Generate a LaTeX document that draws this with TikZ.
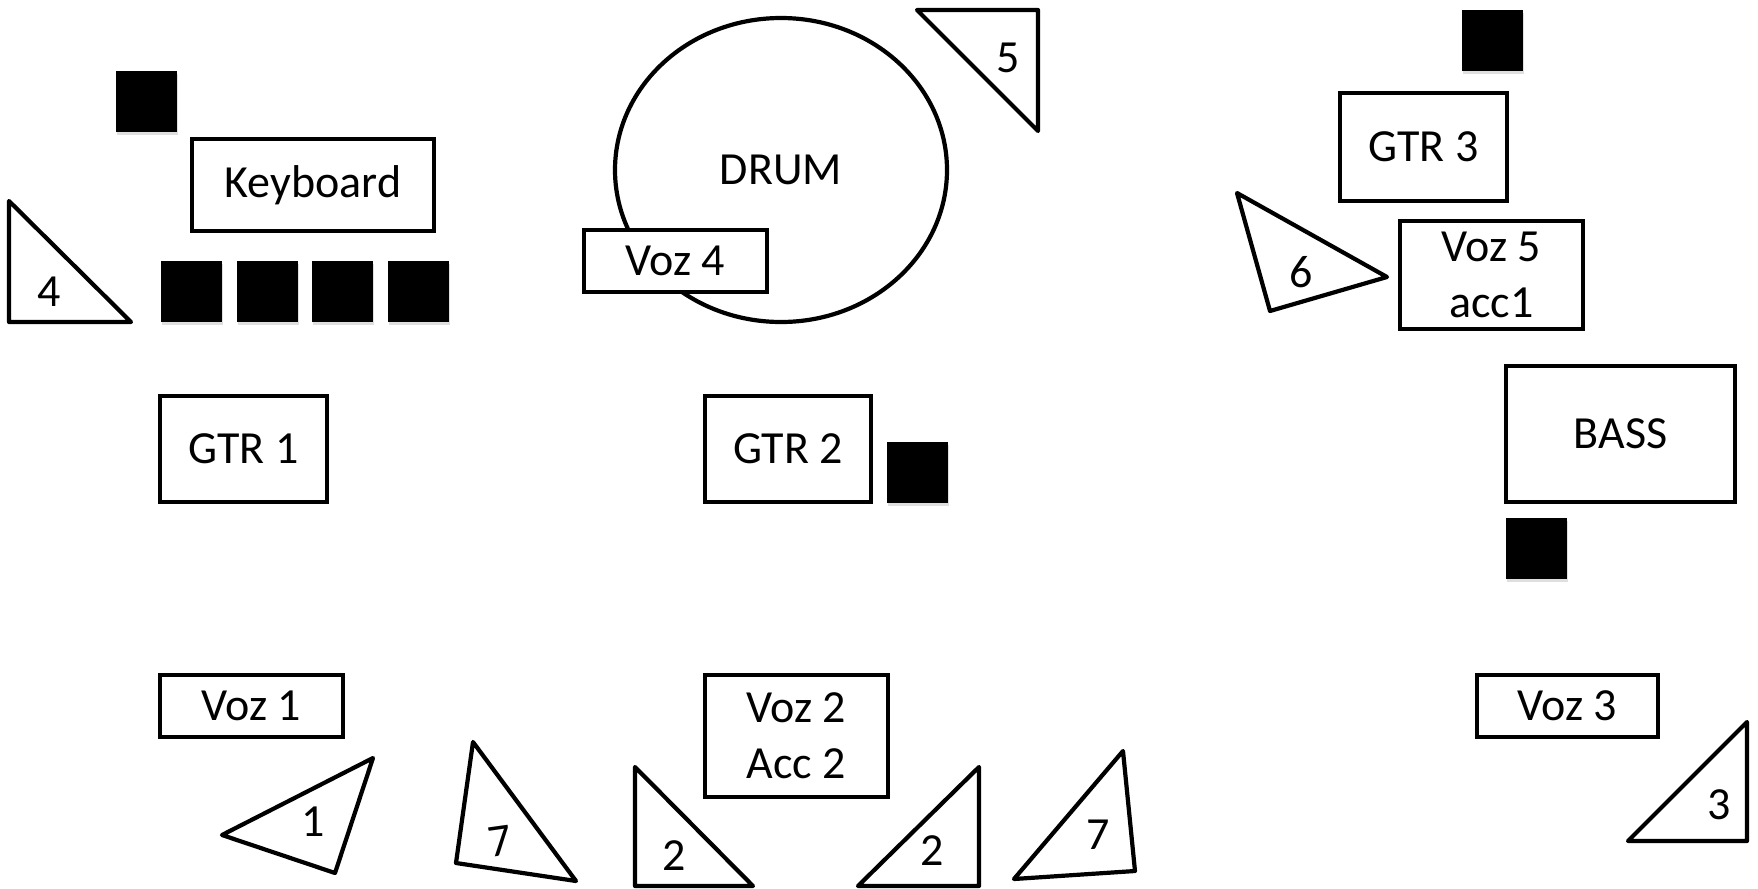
\documentclass[tikz,border=0pt]{standalone}
\usepackage{fontspec}
\setmainfont{Carlito}
\usetikzlibrary{shapes.geometric, shadows}

\tikzset{
  box/.style={draw, line width=2.1pt, fill=white, align=center, inner sep=0pt},
  amp/.style={fill=black, minimum size=30.5pt, inner sep=0pt,
    drop shadow={opacity=0.25, shadow xshift=0.6pt, shadow yshift=-1.6pt}},
  mon/.style={draw, line width=2.1pt, line join=round, fill=white},
}

\begin{document}
\begin{tikzpicture}[x=0.5pt, y=-0.5pt, font=\fontsize{23}{28}\selectfont]
    \useasboundingbox (0,0) rectangle (1758,889);

    % Drum and keyboard corner
    \node[draw, ellipse, line width=2.1pt, minimum width=166pt, minimum height=152pt] (drum) at (781,170) {DRUM};
    \node[box, minimum width=91.5pt, minimum height=31pt] (voz4) at (675.5,261) {Voz 4};
    \node[box, minimum width=121pt, minimum height=46pt] (keyboard) at (313,185) {Keyboard};
    \node[amp] (ampkb) at (146,101) {};
    \foreach \x [count=\i] in {191.5,267,342.5,418}
        \node[amp] (key\i) at (\x,291.5) {};

    % Guitars and bass
    \node[box, minimum width=83.5pt, minimum height=53pt] (gtr1) at (243.5,449) {GTR 1};
    \node[box, minimum width=83pt, minimum height=53pt] (gtr2) at (788,449) {GTR 2};
    \node[amp] (ampgtr2) at (917,472) {};
    \node[box, minimum width=83.5pt, minimum height=54pt] (gtr3) at (1423.5,147) {GTR 3};
    \node[amp] (ampgtr3) at (1492,40.5) {};
    \node[box, minimum width=91.5pt, minimum height=54pt] (voz5) at (1491.5,275) {Voz 5\\acc1};
    \node[box, minimum width=114.5pt, minimum height=68pt] (bass) at (1620.5,434) {BASS};
    \node[amp] (ampbass) at (1536.5,548.5) {};

    % Front vocals
    \node[box, minimum width=91.5pt, minimum height=31pt] (voz1) at (251.5,706) {Voz 1};
    \node[box, minimum width=91.5pt, minimum height=61pt] (voz2) at (796.5,736) {Voz 2\\Acc 2};
    \node[box, minimum width=90.5pt, minimum height=31pt] (voz3) at (1567.5,706) {Voz 3};

    % Monitors
    \draw[mon] (9,201) -- (9,322) -- (131,322) -- cycle;
    \node (mon4) at (49,292) {4};
    \draw[mon] (917,10) -- (1038,10) -- (1038,131) -- cycle;
    \node (mon5) at (1008,58) {5};
    \draw[mon] (1237,193) -- (1387,277) -- (1270,311) -- cycle;
    \node (mon6) at (1301,272) {6};
    \draw[mon] (222,835) -- (373,758) -- (335,873) -- cycle;
    \node (mon1) at (313,822) {1};
    \draw[mon] (473,742) -- (576,881) -- (456,863) -- cycle;
    \node[rotate=8] (mon7a) at (500,841) {7};
    \draw[mon] (635,767) -- (635,886) -- (753,886) -- cycle;
    \node (mon2a) at (674,856) {2};
    \draw[mon] (979,767) -- (979,886) -- (858,886) -- cycle;
    \node (mon2b) at (932,851) {2};
    \draw[mon] (1123,751) -- (1135,871) -- (1014,879) -- cycle;
    \node (mon7b) at (1098,835) {7};
    \draw[mon] (1747,722) -- (1747,841) -- (1628,841) -- cycle;
    \node (mon3) at (1719,805) {3};
\end{tikzpicture}
\end{document}
